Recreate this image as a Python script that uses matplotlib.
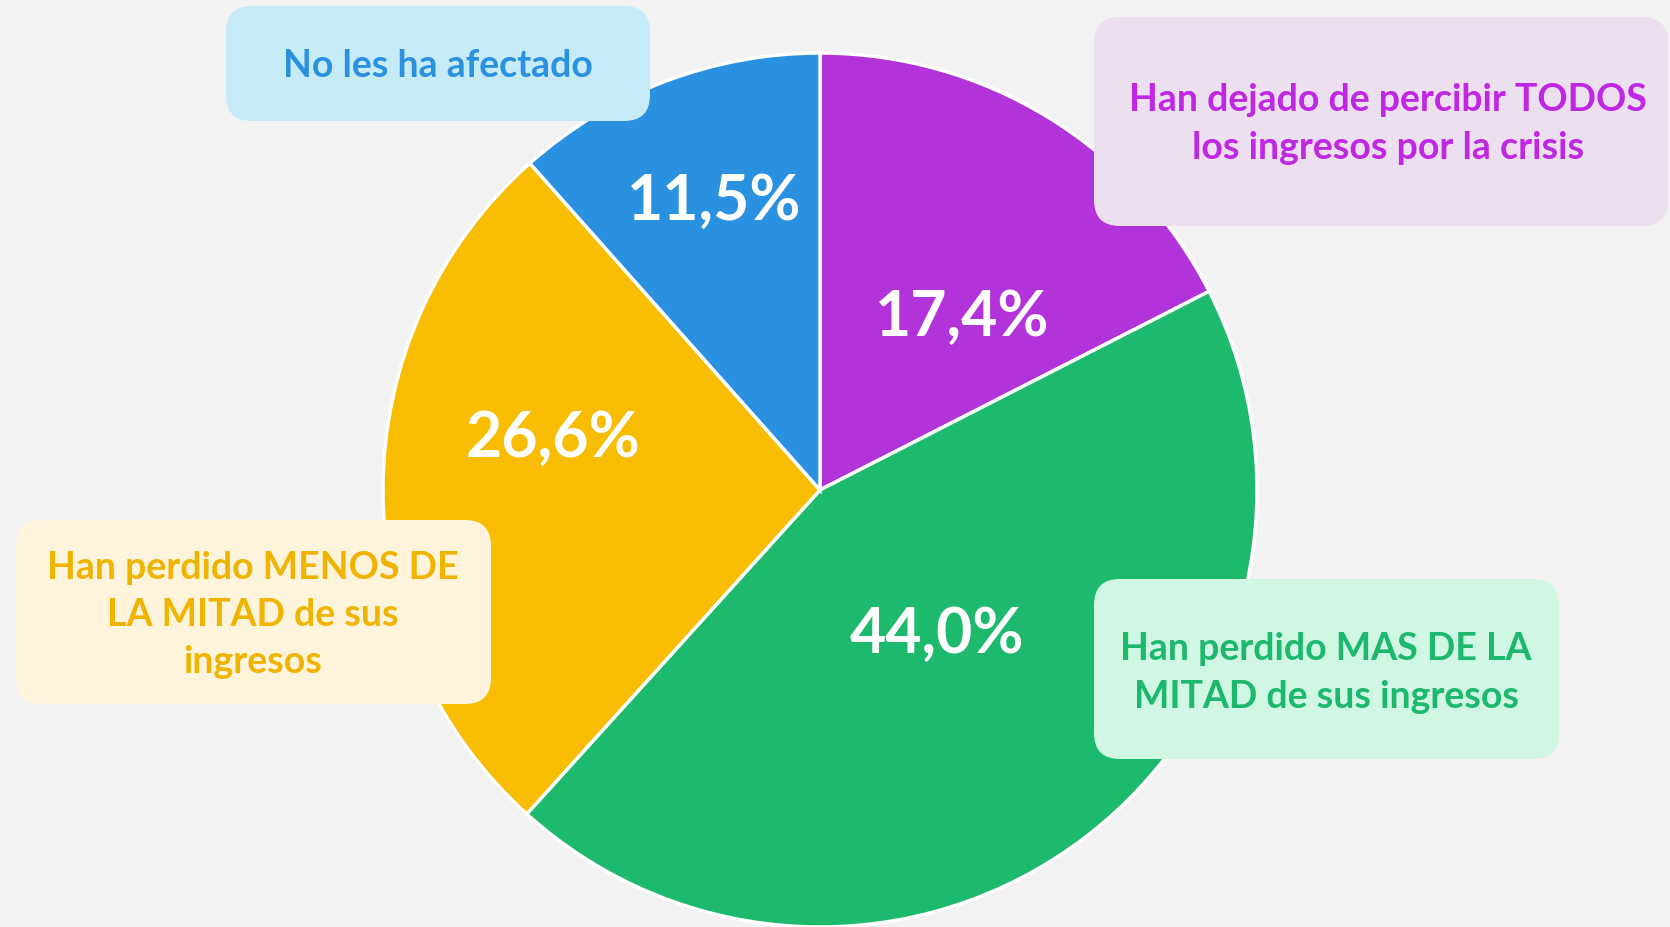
import matplotlib
matplotlib.use("Agg")
import matplotlib.pyplot as plt
from matplotlib.patches import FancyBboxPatch

# datos
categorias = [
    "Han dejado de percibir TODOS\nlos ingresos por la crisis",
    "Han perdido MAS DE LA\nMITAD de sus ingresos",
    "Han perdido MENOS DE\nLA MITAD de sus\ningresos",
    "No les ha afectado",
]
valores = [17.4, 44.0, 26.6, 11.5]
etiquetas = ["17,4%", "44,0%", "26,6%", "11,5%"]

colores = ["#B133D9", "#1DB96C", "#F8BC00", "#2A91E0"]
fondos_caja = ["#ECDFEF", "#CFF7E4", "#FEF4DC", "#C6EBF6"]
colores_texto = ["#BF27E2", "#1CB86B", "#F0B400", "#2A90E0"]

W, H = 1670, 927
FONT = "Lato"

fig = plt.figure(figsize=(W / 100, H / 100), dpi=100)
fig.patch.set_facecolor("#F2F2F2")
ax = fig.add_axes([0, 0, 1, 1])

# pastel (eje y invertido -> counterclock=True da sentido horario en pantalla)
cx, cy, r = 820, 490, 437
wedges, _ = ax.pie(valores, colors=colores, startangle=-90, counterclock=True,
                   center=(cx, cy), radius=r, frame=True,
                   wedgeprops=dict(edgecolor="white", linewidth=2.5))
ax.set_xlim(0, W)
ax.set_ylim(H, 0)
ax.axis("off")

# porcentajes
pos_pct = [(962, 318), (937, 635), (553, 439), (714, 202)]
for (x, y), t in zip(pos_pct, etiquetas):
    ax.text(x, y, t, ha="center", va="center", color="white",
            fontsize=45, fontweight="bold", family=FONT)

# cajas de leyenda
cajas = [(1094, 17, 574, 209), (1094, 579, 465, 180), (16, 520, 475, 184), (226, 6, 424, 115)]
centros_texto = [(1388, 124), (1326, 673), (253, 615), (438, 66)]
for (x0, y0, w, h), (tx, ty), txt, fc, tc in zip(cajas, centros_texto, categorias,
                                                fondos_caja, colores_texto):
    ax.add_patch(FancyBboxPatch((x0, y0), w, h,
                                boxstyle="round,pad=0,rounding_size=26",
                                facecolor=fc, edgecolor="none", zorder=3))
    ax.text(tx, ty, txt, ha="center", va="center", color=tc, fontsize=27,
            fontweight="bold", family=FONT, linespacing=1.47, zorder=4)

fig.savefig("out.png", dpi=100, facecolor=fig.get_facecolor())
